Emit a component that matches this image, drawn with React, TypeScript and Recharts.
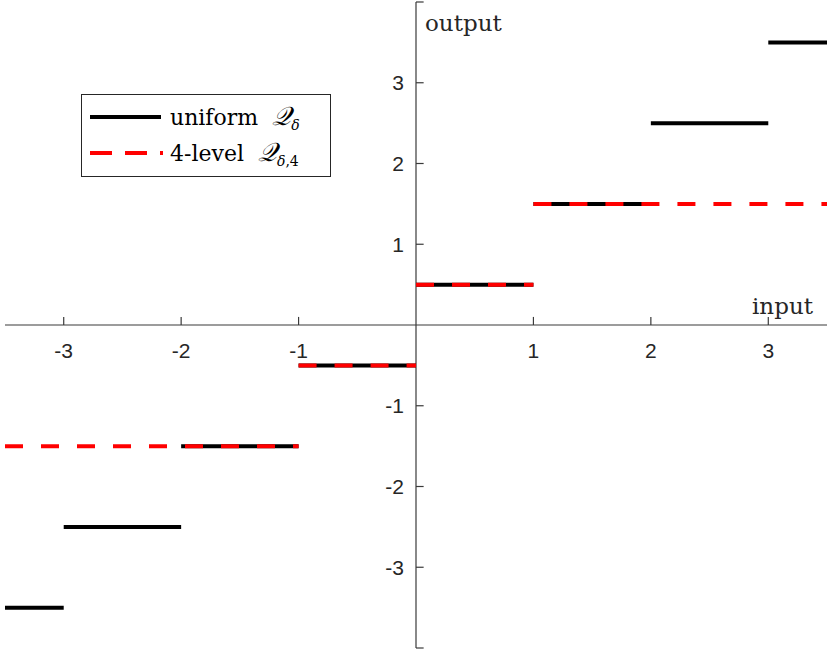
import { Line, LineChart, ReferenceDot, ReferenceLine, XAxis, YAxis } from "recharts";

// staircase segments: [start, end) -> level
const uniformStart = [-3.5, -3, -2, -1, 0, 1, 2, 3];
const uniformEnd = [-3, -2, -1, 0, 1, 2, 3, 3.5];
const uniformLevel = [-3.5, -2.5, -1.5, -0.5, 0.5, 1.5, 2.5, 3.5];

const fourStart = [-3.5, -1, 0, 1];
const fourEnd = [-1, 0, 1, 3.5];
const fourLevel = [-1.5, -0.5, 0.5, 1.5];

const xTicks = [-3, -2, -1, 1, 2, 3];
const yTicks = [-3, -2, -1, 1, 2, 3];
const yEnds = [-4, 4];

const AXIS = "#3a3a3a";
const SANS = "'Liberation Sans', Arial, sans-serif";
const SERIF = "'DejaVu Serif', 'Liberation Serif', serif";

function steps(starts: number[], ends: number[], levels: number[]) {
  const out: { x: number; y: number | null }[] = [];
  starts.forEach((s, i) => {
    out.push({ x: s, y: levels[i] });
    out.push({ x: ends[i], y: levels[i] });
    out.push({ x: ends[i], y: null });
  });
  return out;
}

const uniformData = steps(uniformStart, uniformEnd, uniformLevel);
const fourData = steps(fourStart, fourEnd, fourLevel);

const Q = () => <span style={{ fontFamily: "'DejaVu Serif', serif", fontStyle: "italic", fontSize: 26 }}>𝒬</span>;

function LegendBox() {
  return (
    <div
      style={{
        position: "absolute",
        left: 81,
        top: 94,
        width: 248,
        height: 81,
        border: "1px solid #262626",
        background: "#fff",
        fontFamily: SERIF,
        fontSize: 22,
        color: "#000",
      }}
    >
      <div style={{ display: "flex", alignItems: "center", height: 36, marginTop: 4 }}>
        <svg width={88} height={10}>
          <line x1={8} y1={5} x2={79} y2={5} stroke="#000" strokeWidth={4} />
        </svg>
        <span>
          uniform&nbsp; <Q />
          <sub style={{ fontSize: 14, fontStyle: "italic" }}>δ</sub>
        </span>
      </div>
      <div style={{ display: "flex", alignItems: "center", height: 36 }}>
        <svg width={88} height={10}>
          <line x1={8} y1={5} x2={81} y2={5} stroke="#ff0000" strokeWidth={4} strokeDasharray="22 13" />
        </svg>
        <span>
          4-level&nbsp; <Q />
          <sub style={{ fontSize: 14 }}>
            <i>δ</i>,4
          </sub>
        </span>
      </div>
    </div>
  );
}

export default function App() {
  return (
    <div style={{ position: "absolute", left: 0, top: 0, width: 830, height: 651, background: "#fff" }}>
      <LineChart width={830} height={651} margin={{ left: 5, right: 3, top: 2, bottom: 3 }}>
        <XAxis type="number" dataKey="x" domain={[-3.5, 3.5]} hide allowDuplicatedCategory={false} />
        <YAxis type="number" domain={[-4, 4]} hide />
        <ReferenceLine y={0} stroke={AXIS} strokeWidth={1.2} />
        <ReferenceLine x={0} stroke={AXIS} strokeWidth={1.2} />
        {xTicks.map((t) => (
          <ReferenceLine
            key={"xt" + t}
            segment={[
              { x: t, y: 0 },
              { x: t, y: 0.1 },
            ]}
            stroke={AXIS}
            strokeWidth={1.2}
          />
        ))}
        {[...yTicks, ...yEnds].map((t) => (
          <ReferenceLine
            key={"yt" + t}
            segment={[
              { x: 0, y: t },
              { x: 0.065, y: t },
            ]}
            stroke={AXIS}
            strokeWidth={1.2}
          />
        ))}
        {xTicks.map((t) => (
          <ReferenceDot
            key={"xl" + t}
            x={t}
            y={0}
            r={0}
            stroke="none"
            label={{ value: String(t), position: "bottom", offset: 18, fill: "#262626", fontSize: 21, fontFamily: SANS }}
          />
        ))}
        {yTicks.map((t) => (
          <ReferenceDot
            key={"yl" + t}
            x={0}
            y={t}
            r={0}
            stroke="none"
            label={{ value: String(t), position: "left", offset: 12, fill: "#262626", fontSize: 21, fontFamily: SANS }}
          />
        ))}
        <Line
          data={uniformData}
          dataKey="y"
          stroke="#000"
          strokeWidth={4}
          dot={false}
          connectNulls={false}
          isAnimationActive={false}
        />
        <Line
          data={fourData}
          dataKey="y"
          stroke="#ff0000"
          strokeWidth={4}
          strokeDasharray="18 18"
          dot={false}
          connectNulls={false}
          isAnimationActive={false}
        />
      </LineChart>
      <LegendBox />
      <div style={{ position: "absolute", left: 425, top: 10, fontFamily: SERIF, fontSize: 23, color: "#262626" }}>
        output
      </div>
      <div style={{ position: "absolute", left: 752, top: 293, fontFamily: SERIF, fontSize: 23, color: "#262626" }}>
        input
      </div>
    </div>
  );
}
